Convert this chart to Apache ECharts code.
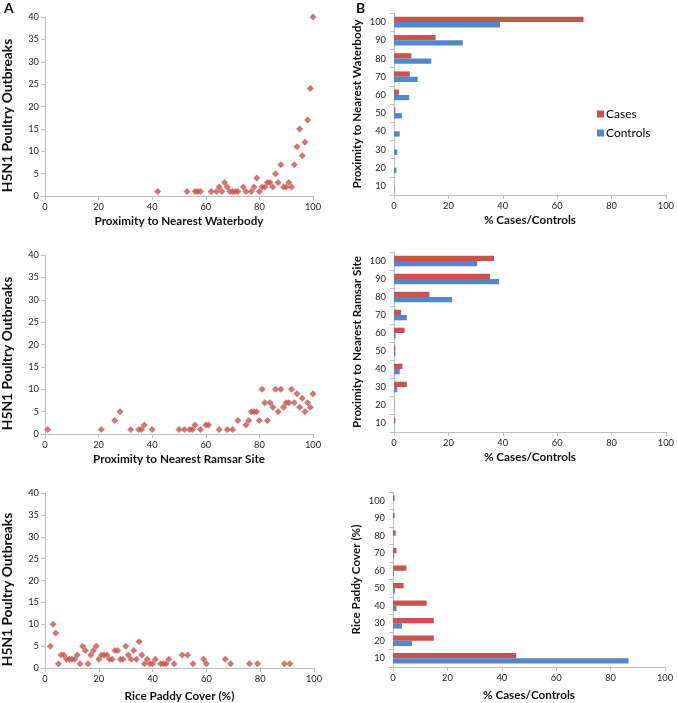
<!DOCTYPE html>
<html>
<head>
<meta charset="utf-8">
<script src="https://cdn.jsdelivr.net/npm/echarts@6/dist/echarts.min.js"></script>
<style>
  html, body { margin: 0; padding: 0; background: #fff; }
  #chart { width: 677px; height: 703px; }
</style>
</head>
<body>
<div id="chart"></div>
<script>
// scatter data: [x, outbreaks]
const waterbodyPoints = [[42,1],[53,1],[56,1],[57,1],[58,1],[62,1],[64,1],[65,2],[66,1],[67,3],[68,2],[69,1],[70,1],[71,1],[72,1],[74,2],[75,1],[77,1],[78,2],[79,4],[80,1],[81,2],[82,2],[83,3],[84,3],[85,2],[86,5],[87,3],[88,7],[89,2],[90,2],[91,3],[92,2],[93,7],[94,11],[95,15],[96,9],[97,12],[98,17],[99,24],[100,40]];
const ramsarPoints = [[1,1],[21,1],[26,3],[28,5],[32,1],[35,1],[36,1],[37,2],[40,1],[50,1],[52,1],[54,1],[55,1],[56,2],[58,1],[60,2],[61,2],[65,1],[68,1],[70,1],[72,3],[75,2],[76,3],[77,5],[78,5],[79,5],[80,3],[81,10],[82,7],[83,3],[84,7],[85,6],[86,10],[87,5],[88,10],[89,6],[90,7],[91,7],[92,10],[93,7],[94,9],[95,6],[96,8],[97,5],[98,7],[99,6],[100,9]];
const paddyPoints = [[2,5],[3,10],[4,8],[5,1],[6,3],[7,3],[8,2],[9,2],[10,2],[11,2],[12,3],[13,1],[14,5],[15,4],[16,1],[17,3],[18,4],[19,5],[20,2],[21,3],[22,3],[23,3],[24,2],[25,2],[26,4],[27,4],[28,2],[29,2],[30,5],[31,3],[32,2],[33,4],[34,2],[35,6],[36,3],[37,1],[38,2],[39,1],[40,1],[41,2],[43,1],[44,1],[45,1],[46,2],[48,1],[51,3],[53,3],[55,1],[59,2],[60,1],[67,2],[69,1],[76,1],[79,1],[89,1],[91,1]];

// bar data, bins from 10 (bottom) to 100 (top), % of cases / controls
const bins = ['10','20','30','40','50','60','70','80','90','100'];
const waterCases = [0, 0, 0, 0, 0.5, 1.8, 5.8, 6.4, 15.3, 69.7];
const waterControls = [0.2, 0.9, 1.2, 2.1, 2.9, 5.6, 8.7, 13.7, 25.3, 39];
const ramsarCases = [0.5, 0.1, 4.7, 3.1, 0.5, 3.9, 2.6, 13, 35.3, 36.8];
const ramsarControls = [0, 0.1, 1.2, 2.1, 0.5, 0.6, 4.7, 21.4, 38.6, 30.6];
const paddyCases = [45.3, 15, 15, 12.4, 3.9, 4.9, 1.3, 1, 0.6, 0.6];
const paddyControls = [86.6, 7, 3.3, 1.3, 0.7, 0.4, 0.4, 0, 0, 0];

const RED = '#c9534f';
const BLUE = '#5288c8';
const FONT = 'Lato';
const AXIS_GRAY = '#bfbfbf';

const chart = echarts.init(document.getElementById('chart'));

const titleStyle = { fontFamily: FONT, fontSize: 11.7, fontWeight: 'bold', color: '#111' };
// the outbreak title is drawn a bit larger and sits lower than the axis middle
const outbreakTitleStyle = { fontFamily: FONT, fontSize: 13.8, fontWeight: 'bold', color: '#111', padding: [0, 18, 0, 0] };
const labelStyle = { fontFamily: FONT, fontSize: 9.3, color: '#222' };

const scatterGrids = [
  { left: 39, top: 17, width: 274, height: 179 },
  { left: 39, top: 255, width: 274, height: 179 },
  { left: 39, top: 493, width: 275, height: 176 }
];
const barGrids = [
  { left: 394, top: 13, width: 272, height: 182 },
  { left: 394, top: 252, width: 272, height: 180 },
  { left: 393, top: 492, width: 272, height: 175 }
];
const scatterXNames = ['Proximity to Nearest Waterbody', 'Proximity to Nearest Ramsar Site', 'Rice Paddy Cover (%)'];
const barYNames = ['Proximity to Nearest Waterbody', 'Proximity to Nearest Ramsar Site', 'Rice Paddy Cover (%)'];
const xNameGaps = [19, 19, 22];
const scatterData = [waterbodyPoints, ramsarPoints, paddyPoints];
const barCases = [waterCases, ramsarCases, paddyCases];
const barControls = [waterControls, ramsarControls, paddyControls];

const grid = [];
const xAxis = [];
const yAxis = [];
const series = [];

const axisLine = { show: true, lineStyle: { color: AXIS_GRAY, width: 1 } };
const axisTick = { show: true, length: 4, lineStyle: { color: AXIS_GRAY } };

for (let i = 0; i < 3; i++) {
  grid.push(Object.assign({ containLabel: false }, scatterGrids[i]));
  xAxis.push({
    gridIndex: grid.length - 1, type: 'value', min: 0, max: 100, interval: 20,
    name: scatterXNames[i], nameLocation: 'middle', nameGap: xNameGaps[i], nameTextStyle: titleStyle,
    axisLine, axisTick, splitLine: { show: false },
    axisLabel: Object.assign({ margin: 6 }, labelStyle)
  });
  yAxis.push({
    gridIndex: grid.length - 1, type: 'value', min: 0, max: 40, interval: 5,
    name: 'H5N1 Poultry Outbreaks', nameLocation: 'middle', nameGap: 30, nameTextStyle: outbreakTitleStyle,
    axisLine, axisTick, splitLine: { show: false },
    axisLabel: Object.assign({ margin: 6 }, labelStyle)
  });
  series.push({
    type: 'scatter', xAxisIndex: grid.length - 1, yAxisIndex: grid.length - 1,
    data: scatterData[i], symbol: 'diamond', symbolSize: 7,
    itemStyle: { color: RED }
  });
}

for (let i = 0; i < 3; i++) {
  grid.push(Object.assign({ containLabel: false }, barGrids[i]));
  const gi = grid.length - 1;
  xAxis.push({
    gridIndex: gi, type: 'value', min: 0, max: 100, interval: 20,
    name: '% Cases/Controls', nameLocation: 'middle', nameGap: i === 2 ? 22 : 19, nameTextStyle: titleStyle,
    axisLine, axisTick, splitLine: { show: false },
    axisLabel: Object.assign({ margin: 6 }, labelStyle)
  });
  yAxis.push({
    gridIndex: gi, type: 'category', data: bins,
    name: barYNames[i], nameLocation: 'middle', nameGap: 31, nameTextStyle: titleStyle,
    axisLine, axisTick, splitLine: { show: false },
    axisLabel: Object.assign({ margin: 8 }, labelStyle)
  });
  series.push({
    name: 'Cases', type: 'bar', xAxisIndex: gi, yAxisIndex: gi,
    data: barCases[i], barWidth: 5.3, barGap: '0%',
    itemStyle: { color: RED }
  });
  series.push({
    name: 'Controls', type: 'bar', xAxisIndex: gi, yAxisIndex: gi,
    data: barControls[i], barWidth: 5.3, barGap: '0%',
    itemStyle: { color: BLUE }
  });
}

chart.setOption({
  animation: false,
  backgroundColor: '#fff',
  grid, xAxis, yAxis, series,
  legend: {
    data: ['Cases', 'Controls'],
    orient: 'vertical', left: 592, top: 103,
    itemWidth: 7, itemHeight: 7, itemGap: 7,
    icon: 'rect',
    textStyle: { fontFamily: FONT, fontSize: 12, color: '#000', padding: [0, 0, 0, -3] }
  },
  graphic: [
    { type: 'text', left: 4, top: 1, style: { text: 'A', fontFamily: FONT, fontSize: 14, fontWeight: 'bold', fill: '#111' } },
    { type: 'text', left: 356, top: 1, style: { text: 'B', fontFamily: FONT, fontSize: 14, fontWeight: 'bold', fill: '#111' } }
  ]
});
</script>
</body>
</html>
